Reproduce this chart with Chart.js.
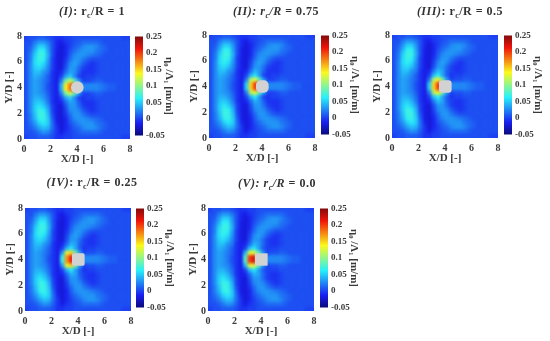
<!DOCTYPE html>
<html>
<head>
<meta charset="utf-8">
<script src="https://cdn.jsdelivr.net/npm/chart.js@4"></script>
<style>
html, body { margin: 0; background: #fff; }
#page { position: relative; width: 550px; height: 341px; overflow: hidden; filter: blur(0.35px); }
canvas { position: absolute; }
.title { position: absolute; width: 130px; text-align: center; font: bold 12px "Liberation Serif", serif; color: #333; letter-spacing: 0.5px; white-space: nowrap; }
.title sub { font-size: 8px; line-height: 0; }
</style>
</head>
<body>
<div id="page"></div>
<script>
// all field values are eta0/A1 in hundredths of m/m
const titles = [
  '<i>(I)</i>: r<sub>c</sub>/R = 1',
  '<i>(II): r<sub>c</sub>/R</i> = 0.75',
  '<i>(III)</i>: r<sub>c</sub>/R = 0.5',
  '<i>(IV)</i>: r<sub>c</sub>/R = 0.25',
  '<i>(V): r<sub>c</sub>/R</i> = 0.0'
];
const cornerRatio = [1, 0.75, 0.5, 0.25, 0];
const axisTicks = [0, 2, 4, 6, 8];
const barTicks = [0.25, 0.2, 0.15, 0.1, 0.05, 0, -0.05];

// 24 x 24 cells, top row first. the 7 x 8 block round the body comes from near*
const farField = [
  [0,.5,.5,1,1,.5,0,-.5,-.5,0,0,.5,.5,.5,.5,.5,.5,.5,.5,.5,.5,.5,0,0],
  [.5,.5,2,3,3,2,.5,-1,-1.5,-.5,0,.5,1,1.5,1.5,1.5,1.5,1,.5,.5,.5,.5,.5,.5],
  [.5,1,3,5,5,3,.5,-1,-2,-1,0,1,1.5,2.5,3,3,2.5,1.5,1,.5,.5,.5,.5,.5],
  [.5,1.5,4,6.5,6.5,3.5,.5,-1.5,-2,-1,.5,1.5,2.5,3,3,3,2,1.5,1,.5,.5,.5,.5,.5],
  [.5,2,5,7,7,4,.5,-1.5,-2,-1,1,2.5,3,3,2.5,2,1.5,1,.5,.5,.5,.5,.5,.5],
  [.5,2,5.5,7,6.5,3.5,0,-1.5,-2,-.5,1.5,3,3,2,1,.5,.5,.5,.5,.5,.5,.5,.5,.5],
  [.5,2.5,5.5,6.5,5.5,3,0,-1.5,-2,0,2.5,3.5,2.5,1,0,-.5,0,.5,.5,.5,.5,.5,.5,.5],
  [.5,2.5,5,5.5,4.5,2.5,0,-1.5,-2,.5,3,3,1.5,0,-.5,-.5,0,.5,.5,.5,.5,.5,.5,.5],
  [.5,2.5,4.5,4.5,3,2,-.5,-1.5,0,0,0,0,0,0,0,-.5,0,.5,.5,.5,.5,.5,.5,.5],
  [.5,2.5,4,3.5,2.5,1,-.5,-1.5,0,0,0,0,0,0,0,0,.5,.5,.5,.5,.5,.5,.5,.5],
  [.5,2.5,3.5,3,2,1,-.5,-1.5,0,0,0,0,0,0,0,.5,1,1,.5,.5,.5,.5,.5,.5],
  [.5,2.5,3.5,3,2,.5,-.5,-1.5,0,0,0,0,0,0,0,2.5,2.5,2,1.5,1,1,.5,.5,.5],
  [.5,2.5,3.5,3,2,.5,-.5,-1.5,0,0,0,0,0,0,0,2.5,2.5,2,1.5,1,1,.5,.5,.5],
  [.5,2.5,3.5,3,2.5,1,-.5,-1.5,0,0,0,0,0,0,0,.5,1,1,.5,.5,.5,.5,.5,.5],
  [.5,2.5,4,4,3,1.5,-.5,-1.5,0,0,0,0,0,0,0,0,.5,.5,.5,.5,.5,.5,.5,.5],
  [.5,2.5,4.5,5,4,2,-.5,-1.5,0,0,0,0,0,0,0,-.5,0,.5,.5,.5,.5,.5,.5,.5],
  [.5,2.5,5,6,5,3,0,-1.5,-2,.5,3,3,1.5,0,-.5,-.5,0,.5,.5,.5,.5,.5,.5,.5],
  [.5,2.5,5,7,6.5,4,0,-1.5,-2,0,2.5,3,2.5,1,0,-.5,0,.5,.5,.5,.5,.5,.5,.5],
  [.5,2,4.5,7,7,4.5,.5,-1.5,-2,-.5,1.5,3,3,2,1,.5,.5,.5,.5,.5,.5,.5,.5,.5],
  [.5,2,4,6.5,7,5,1,-1.5,-2,-1,1,2.5,3,3,2.5,2,1.5,1,.5,.5,.5,.5,.5,.5],
  [.5,1.5,3,5,6,5,1.5,-1,-2,-1,.5,1.5,2.5,3,3,3,2,1.5,1,.5,.5,.5,.5,.5],
  [.5,1,2,3.5,4.5,4,1.5,-.5,-2,-1,0,1,1.5,2.5,3,3,2.5,1.5,1,.5,.5,.5,.5,.5],
  [.5,.5,1,2,3,2.5,1,-.5,-1.5,-.5,0,.5,1,1.5,1.5,1.5,1.5,1,.5,.5,.5,.5,.5,.5],
  [0,.5,.5,1,1,1,.5,-.5,-.5,0,0,.5,.5,.5,.5,.5,.5,.5,.5,.5,.5,.5,0,0]
];
const nearI = [
  [-1,1.5,3.5,3,1,-.5,-.5],
  [0,3.5,5,2.5,0,-.5,0],
  [2,9,12,8,3,0,0],
  [4,14,18,20,6,2.5,2.5],
  [4,14,18,20,6,2.5,2.5],
  [2,9,12,8,3,0,0],
  [0,3.5,5,2.5,0,-.5,0],
  [-1,1.5,3.5,3,1,-.5,-.5]
];
const nearII = [
  [-1,1.5,4,3,1,-.5,-.5],
  [0,4,6,3,0,-.5,0],
  [2,11,13,8,3,0,0],
  [5,15,20,21,6,2.5,2.5],
  [5,15,20,21,6,2.5,2.5],
  [2,11,13,8,3,0,0],
  [0,4,6,3,0,-.5,0],
  [-1,1.5,4,3,1,-.5,-.5]
];
const nearIII = [
  [-1,2,4.5,3.5,1,0,-.5],
  [0,4.5,6.5,3.5,1,-.5,0],
  [2,11,14,9,3,0,.5],
  [5,15,20,22,6,2.5,2.5],
  [5,15,20,22,6,2.5,2.5],
  [2,11,14,9,3,0,.5],
  [0,4.5,6.5,3.5,1,-.5,0],
  [-1,2,4.5,3.5,1,0,-.5]
];
const nearIV = [
  [-1,1.5,4,3.5,1,0,-.5],
  [0,4,6,3.5,1,-.5,0],
  [3,13,15,9,3,0,.5],
  [7,17,21,22,6,2.5,2.5],
  [7,17,21,22,6,2.5,2.5],
  [3,13,15,9,3,0,.5],
  [0,4,6,3.5,1,-.5,0],
  [-1,1.5,4,3.5,1,0,-.5]
];
const nearV = [
  [-1,1.5,4,3.5,1.5,0,-.5],
  [0,4.5,6,3.5,1,0,0],
  [4,13,13,8,3,0,.5],
  [8,20,22,13,6,2.5,2.5],
  [8,20,22,13,6,2.5,2.5],
  [4,13,13,8,3,0,.5],
  [0,4.5,6,3.5,1,0,0],
  [-1,1.5,4,3.5,1.5,0,-.5]
];
const nearFields = [nearI, nearII, nearIII, nearIV, nearV];

// left / top of each plot and left of its colour bar
const plotBoxes = [
  { x: 24, y: 33, bar: 135 },
  { x: 209, y: 32, bar: 321 },
  { x: 392, y: 32, bar: 504 },
  { x: 25, y: 205, bar: 136 },
  { x: 208, y: 205, bar: 320 }
];
const titlePos = [[92, 4], [276, 4], [460, 4], [92, 175], [277, 176]];
const plotSize = 106;
const barWidth = 8;

const jetStops = [
  [0, [10, 10, 120]], [0.125, [25, 30, 240]], [0.375, [40, 240, 250]],
  [0.625, [250, 250, 30]], [0.875, [240, 20, 10]], [1, [130, 10, 10]]
];

function jet(v) {
  const t = Math.min(1, Math.max(0, (v + 5) / 30));
  for (let i = 1; i < jetStops.length; i++) {
    if (t <= jetStops[i][0]) {
      const a = jetStops[i - 1], b = jetStops[i];
      const f = (t - a[0]) / (b[0] - a[0]);
      const c = a[1].map((n, k) => Math.round(n + (b[1][k] - n) * f));
      return `rgb(${c[0]},${c[1]},${c[2]})`;
    }
  }
  return 'rgb(130,10,10)';
}

const tickFont = { family: '"Liberation Serif", serif', size: 10, weight: 'bold' };
const titleFont = { family: '"Liberation Serif", serif', size: 11, weight: 'bold' };
const textColor = '#3a3a3a';

// smooths the cells the scatter dataset just drew
const smoothCells = {
  id: 'smoothCells',
  afterDatasetsDraw(chart) {
    const a = chart.chartArea, c = chart.ctx;
    c.save();
    c.beginPath();
    c.rect(a.left, a.top, a.width, a.height);
    c.clip();
    c.filter = 'blur(1.5px)';
    c.drawImage(chart.canvas, a.left, a.top, a.width, a.height, a.left, a.top, a.width, a.height);
    c.restore();
  }
};

// grey cylinder, about one D wide, centred on (4, 4)
const bodyShape = {
  id: 'bodyShape',
  afterDatasetsDraw(chart, args, opts) {
    const sx = chart.scales.x, sy = chart.scales.y, c = chart.ctx;
    const l = sx.getPixelForValue(3.54), r = sx.getPixelForValue(4.5);
    const t = sy.getPixelForValue(4.48), b = sy.getPixelForValue(3.52);
    c.save();
    c.fillStyle = '#d2d2d2';
    c.beginPath();
    c.roundRect(l, t, r - l, b - t, opts.ratio * (r - l) / 2);
    c.fill();
    c.restore();
  }
};

const page = document.getElementById('page');

function addCanvas(x, y, w, h) {
  const el = document.createElement('canvas');
  el.width = w;
  el.height = h;
  el.style.left = x + 'px';
  el.style.top = y + 'px';
  page.appendChild(el);
  return el.getContext('2d');
}

function cellsFor(p) {
  const cells = [];
  farField.forEach((row, r) => {
    row.forEach((val, q) => {
      let v = val;
      if (r >= 8 && r <= 15 && q >= 8 && q <= 14) v = nearFields[p][r - 8][q - 8];
      cells.push({ x: (q + 0.5) / 3, y: 8 - (r + 0.5) / 3, v: v });
    });
  });
  return cells;
}

plotBoxes.forEach((box, p) => {
  const title = document.createElement('div');
  title.className = 'title';
  title.innerHTML = titles[p];
  title.style.left = (titlePos[p][0] - 65) + 'px';
  title.style.top = titlePos[p][1] + 'px';
  page.appendChild(title);

  new Chart(addCanvas(box.x - 21, box.y - 5, plotSize + 28, plotSize + 33), {
    type: 'scatter',
    data: {
      datasets: [{
        data: cellsFor(p),
        pointStyle: 'rect',
        pointRadius: 3.5,
        pointBorderWidth: 0,
        pointBackgroundColor: ctx => jet(ctx.raw.v)
      }]
    },
    options: {
      responsive: false,
      animation: false,
      events: [],
      layout: { autoPadding: false, padding: { top: 5, right: 7 } },
      plugins: { legend: { display: false }, tooltip: { enabled: false }, bodyShape: { ratio: cornerRatio[p] } },
      scales: {
        x: {
          type: 'linear', min: 0, max: 8,
          afterBuildTicks: s => { s.ticks = axisTicks.map(v => ({ value: v })); },
          afterFit: s => { s.height = 28; },
          grid: { display: false, drawTicks: false },
          border: { display: false },
          ticks: { font: tickFont, color: textColor, padding: 4, maxRotation: 0 },
          title: { display: true, text: 'X/D [-]', font: titleFont, color: textColor, padding: { top: 0, bottom: 1 } }
        },
        y: {
          type: 'linear', min: 0, max: 8,
          afterBuildTicks: s => { s.ticks = axisTicks.map(v => ({ value: v })); },
          afterFit: s => { s.width = 21; },
          grid: { display: false, drawTicks: false },
          border: { display: false },
          ticks: { font: tickFont, color: textColor, padding: 2 },
          title: { display: true, text: 'Y/D [-]', font: titleFont, color: textColor, padding: { top: 0, bottom: p === 1 ? 3 : 0 } }
        }
      }
    },
    plugins: [smoothCells, bodyShape]
  });

  new Chart(addCanvas(box.bar, box.y - 5, barWidth + 32, plotSize + 10), {
    type: 'bar',
    data: {
      labels: [''],
      datasets: [{
        data: [[-0.05, 0.25]],
        barPercentage: 1,
        categoryPercentage: 1,
        backgroundColor: ctx => {
          const s = ctx.chart.scales.y;
          if (!ctx.chart.chartArea || !s) return '#0000ff';
          const g = ctx.chart.ctx.createLinearGradient(0, s.getPixelForValue(-0.05), 0, s.getPixelForValue(0.25));
          jetStops.forEach(st => g.addColorStop(st[0], `rgb(${st[1].join(',')})`));
          return g;
        }
      }]
    },
    options: {
      responsive: false,
      animation: false,
      events: [],
      layout: { autoPadding: false, padding: { top: 5, bottom: 5 } },
      plugins: { legend: { display: false }, tooltip: { enabled: false } },
      scales: {
        x: { display: false },
        y: {
          position: 'right',
          min: -0.05, max: 0.25,
          afterBuildTicks: s => { s.ticks = barTicks.map(v => ({ value: v })); },
          afterFit: s => { s.width = 32; },
          grid: { display: false, drawTicks: false },
          border: { display: false },
          ticks: { font: { family: '"Liberation Serif", serif', size: 9, weight: 'bold' }, color: textColor, padding: 3,
            callback: v => String(Math.round(v * 100) / 100) },
          title: { display: true, text: 'η₀ /Λ₁ [m/m]', font: titleFont, color: textColor, padding: 0 }
        }
      }
    }
  });
});
</script>
</body>
</html>
